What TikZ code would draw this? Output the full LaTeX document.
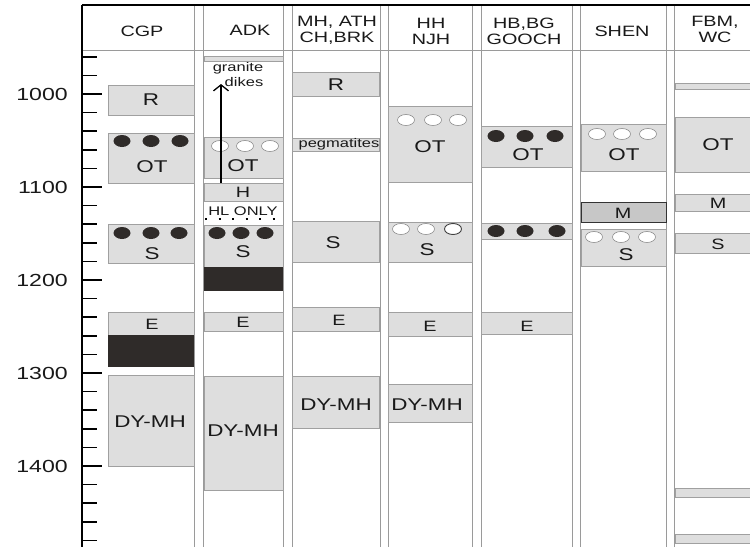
\documentclass[tikz,border=0pt]{standalone}
\usepackage{fontspec}
\setmainfont{Liberation Sans}
\usetikzlibrary{arrows.meta}
\definecolor{unitfill}{HTML}{DEDEDE}
\definecolor{unitedge}{HTML}{A0A0A0}
\definecolor{darkfill}{HTML}{2F2B29}
\definecolor{rulegray}{HTML}{9A9A9A}
\tikzset{
 txt/.style={xscale=1.32,inner sep=0,text=black!90},
 unit/.style={fill=unitfill,draw=unitedge,line width=.8pt},
 darkunit/.style={fill=darkfill},
 mbox/.style={fill=black!22,draw=black!80,line width=1pt},
 fulldot/.style={fill=darkfill,x radius=8.5,y radius=6},
 opendot/.style={fill=white,draw=black!45,line width=.6pt,x radius=8.5,y radius=5.5},
 colrule/.style={draw=rulegray,line width=.8pt},
 depthtick/.style={line width=1.6pt},
 unitlabel/.style={txt,font=\fontsize{17}{17}\selectfont},
 smalllabel/.style={txt,font=\fontsize{15}{15}\selectfont},
 headlabel/.style={txt,font=\fontsize{15}{16}\selectfont,align=center},
 depthlabel/.style={txt,font=\fontsize{17.5}{18}\selectfont,anchor=east},
 notelabel/.style={txt,font=\fontsize{12.5}{13}\selectfont}
}
\begin{document}
\begin{tikzpicture}[x=1pt,y=-1pt]
\path[use as bounding box] (0,0) rectangle (750,547);
% column rules and frame
\foreach \xr in {194,203,283,292,380,388,472,481,572,580,666,674}
  \draw[colrule] (\xr,5) -- (\xr,547);
\draw[colrule] (82,50) -- (750,50);
\draw[line width=1.2pt] (82,5) -- (750,5);
\draw[line width=1.2pt] (82,5) -- (82,547);
% depth scale
\foreach \d [evaluate=\d as \yd using {94+(\d-1000)*0.93}] in {960,980,...,1480}
  \draw[depthtick] (82,\yd) -- ++(15,0);
\foreach \d [evaluate=\d as \yd using {94+(\d-1000)*0.93}] in {1000,1100,...,1400} {
  \draw[depthtick] (82,\yd) -- ++(20,0);
  \node[depthlabel] (d\d) at (68,\yd) {\d};
}
% headers
\node[headlabel] (hCGP) at (142,31) {CGP};
\node[headlabel] (hADK) at (250,30) {ADK};
\node[headlabel] (hMH) at (337,30) {MH, ATH\\CH,BRK};
\node[headlabel] (hHH) at (431,31) {HH\\NJH};
\node[headlabel] (hHB) at (524,31) {HB,BG\\GOOCH};
\node[headlabel] (hSHEN) at (622,31) {SHEN};
\node[headlabel] (hFBM) at (715,29) {FBM,\\WC};
% CGP
\draw[unit] (108,85) rectangle (194,115);
\node[unitlabel] (cgpR) at (151,100) {R};
\draw[unit] (108,133) rectangle (194,183);
\foreach \xd in {122,151,180} \fill[fulldot] (\xd,141) ellipse[];
\node[unitlabel] (cgpOT) at (152,167) {OT};
\draw[unit] (108,224) rectangle (194,263);
\foreach \xd in {122,151,179} \fill[fulldot] (\xd,233) ellipse[];
\node[unitlabel] (cgpS) at (152,254) {S};
\draw[unit] (108,312) rectangle (194,335);
\node[smalllabel] (cgpE) at (152,324) {E};
\fill[darkunit] (108,335) rectangle (194,367);
\draw[unit] (108,375) rectangle (194,466);
\node[unitlabel] (cgpDY) at (150,422) {DY-MH};
% ADK
\draw[unit] (204,56) rectangle (283,61);
\node[notelabel] (granite) at (238,68) {granite};
\node[notelabel] (dikes) at (244,82) {dikes};
\draw[unit] (204,137) rectangle (283,178);
\foreach \xd in {220,245,270} \draw[opendot] (\xd,146) ellipse[];
\node[unitlabel] (adkOT) at (243,166) {OT};
\coordinate (dikefoot) at (221,183);
\coordinate (diketip) at (221,84);
\draw[line width=1.2pt,-{Straight Barb[length=6pt,width=15pt,line width=1.3pt]}] (dikefoot) -- (diketip);
\draw[unit] (204,183) rectangle (283,201);
\node[smalllabel] (adkH) at (243,192) {H};
\node[notelabel] (hlonly) at (243,211) {HL ONLY};
\draw[line width=2pt,dash pattern=on 2pt off 11.5pt] (205,219) -- (280,219);
\draw[unit] (204,225) rectangle (283,267);
\foreach \xd in {217,241,265} \fill[fulldot] (\xd,233) ellipse[];
\node[unitlabel] (adkS) at (243,252) {S};
\fill[darkunit] (204,267) rectangle (283,291);
\draw[unit] (204,312) rectangle (283,331);
\node[smalllabel] (adkE) at (243,322) {E};
\draw[unit] (204,376) rectangle (283,490);
\node[unitlabel] (adkDY) at (243,431) {DY-MH};
% MH, ATH / CH, BRK
\draw[unit] (292,72) rectangle (379,96);
\node[unitlabel] (mhR) at (336,85) {R};
\draw[unit] (292,138) rectangle (379,151);
\node[notelabel] (pegm) at (339,144) {pegmatites};
\draw[unit] (292,221) rectangle (379,262);
\node[unitlabel] (mhS) at (333,243) {S};
\draw[unit] (292,307) rectangle (379,331);
\node[smalllabel] (mhE) at (339,320) {E};
\draw[unit] (292,376) rectangle (379,428);
\node[unitlabel] (mhDY) at (336,405) {DY-MH};
% HH / NJH
\draw[unit] (388,106) rectangle (472,182);
\foreach \xd in {406,433,458} \draw[opendot] (\xd,120) ellipse[];
\node[unitlabel] (hhOT) at (430,147) {OT};
\draw[unit] (388,222) rectangle (472,262);
\foreach \xd in {401,426} \draw[opendot] (\xd,229) ellipse[];
\draw[opendot,draw=black!75,line width=.9pt] (453,229) ellipse[];
\node[unitlabel] (hhS) at (427,250) {S};
\draw[unit] (388,312) rectangle (472,336);
\node[smalllabel] (hhE) at (430,326) {E};
\draw[unit] (388,384) rectangle (472,422);
\node[unitlabel] (hhDY) at (427,405) {DY-MH};
% HB, BG / GOOCH
\draw[unit] (481,126) rectangle (572,167);
\foreach \xd in {496,525,555} \fill[fulldot] (\xd,136) ellipse[];
\node[unitlabel] (hbOT) at (528,155) {OT};
\draw[unit] (481,223) rectangle (572,239);
\foreach \xd in {496,525,557} \fill[fulldot] (\xd,231) ellipse[];
\draw[unit] (481,312) rectangle (572,334);
\node[smalllabel] (hbE) at (527,326) {E};
% SHEN
\draw[unit] (581,124) rectangle (666,171);
\foreach \xd in {597,622,648} \draw[opendot] (\xd,134) ellipse[];
\node[unitlabel] (shOT) at (624,155) {OT};
\draw[mbox] (581,202) rectangle (666,222);
\node[smalllabel] (shM) at (623,213) {M};
\draw[unit] (581,229) rectangle (666,266);
\foreach \xd in {594,621,647} \draw[opendot] (\xd,237) ellipse[];
\node[unitlabel] (shS) at (626,255) {S};
% FBM, WC
\draw[unit] (675,83) rectangle (752,89);
\draw[unit] (675,117) rectangle (752,172);
\node[unitlabel] (fbOT) at (718,145) {OT};
\draw[unit] (675,194) rectangle (752,211);
\node[smalllabel] (fbM) at (718,203) {M};
\draw[unit] (675,233) rectangle (752,253);
\node[smalllabel] (fbS) at (718,244) {S};
\draw[unit] (675,488) rectangle (752,497);
\draw[unit] (675,534) rectangle (752,543);
\end{tikzpicture}
\end{document}
